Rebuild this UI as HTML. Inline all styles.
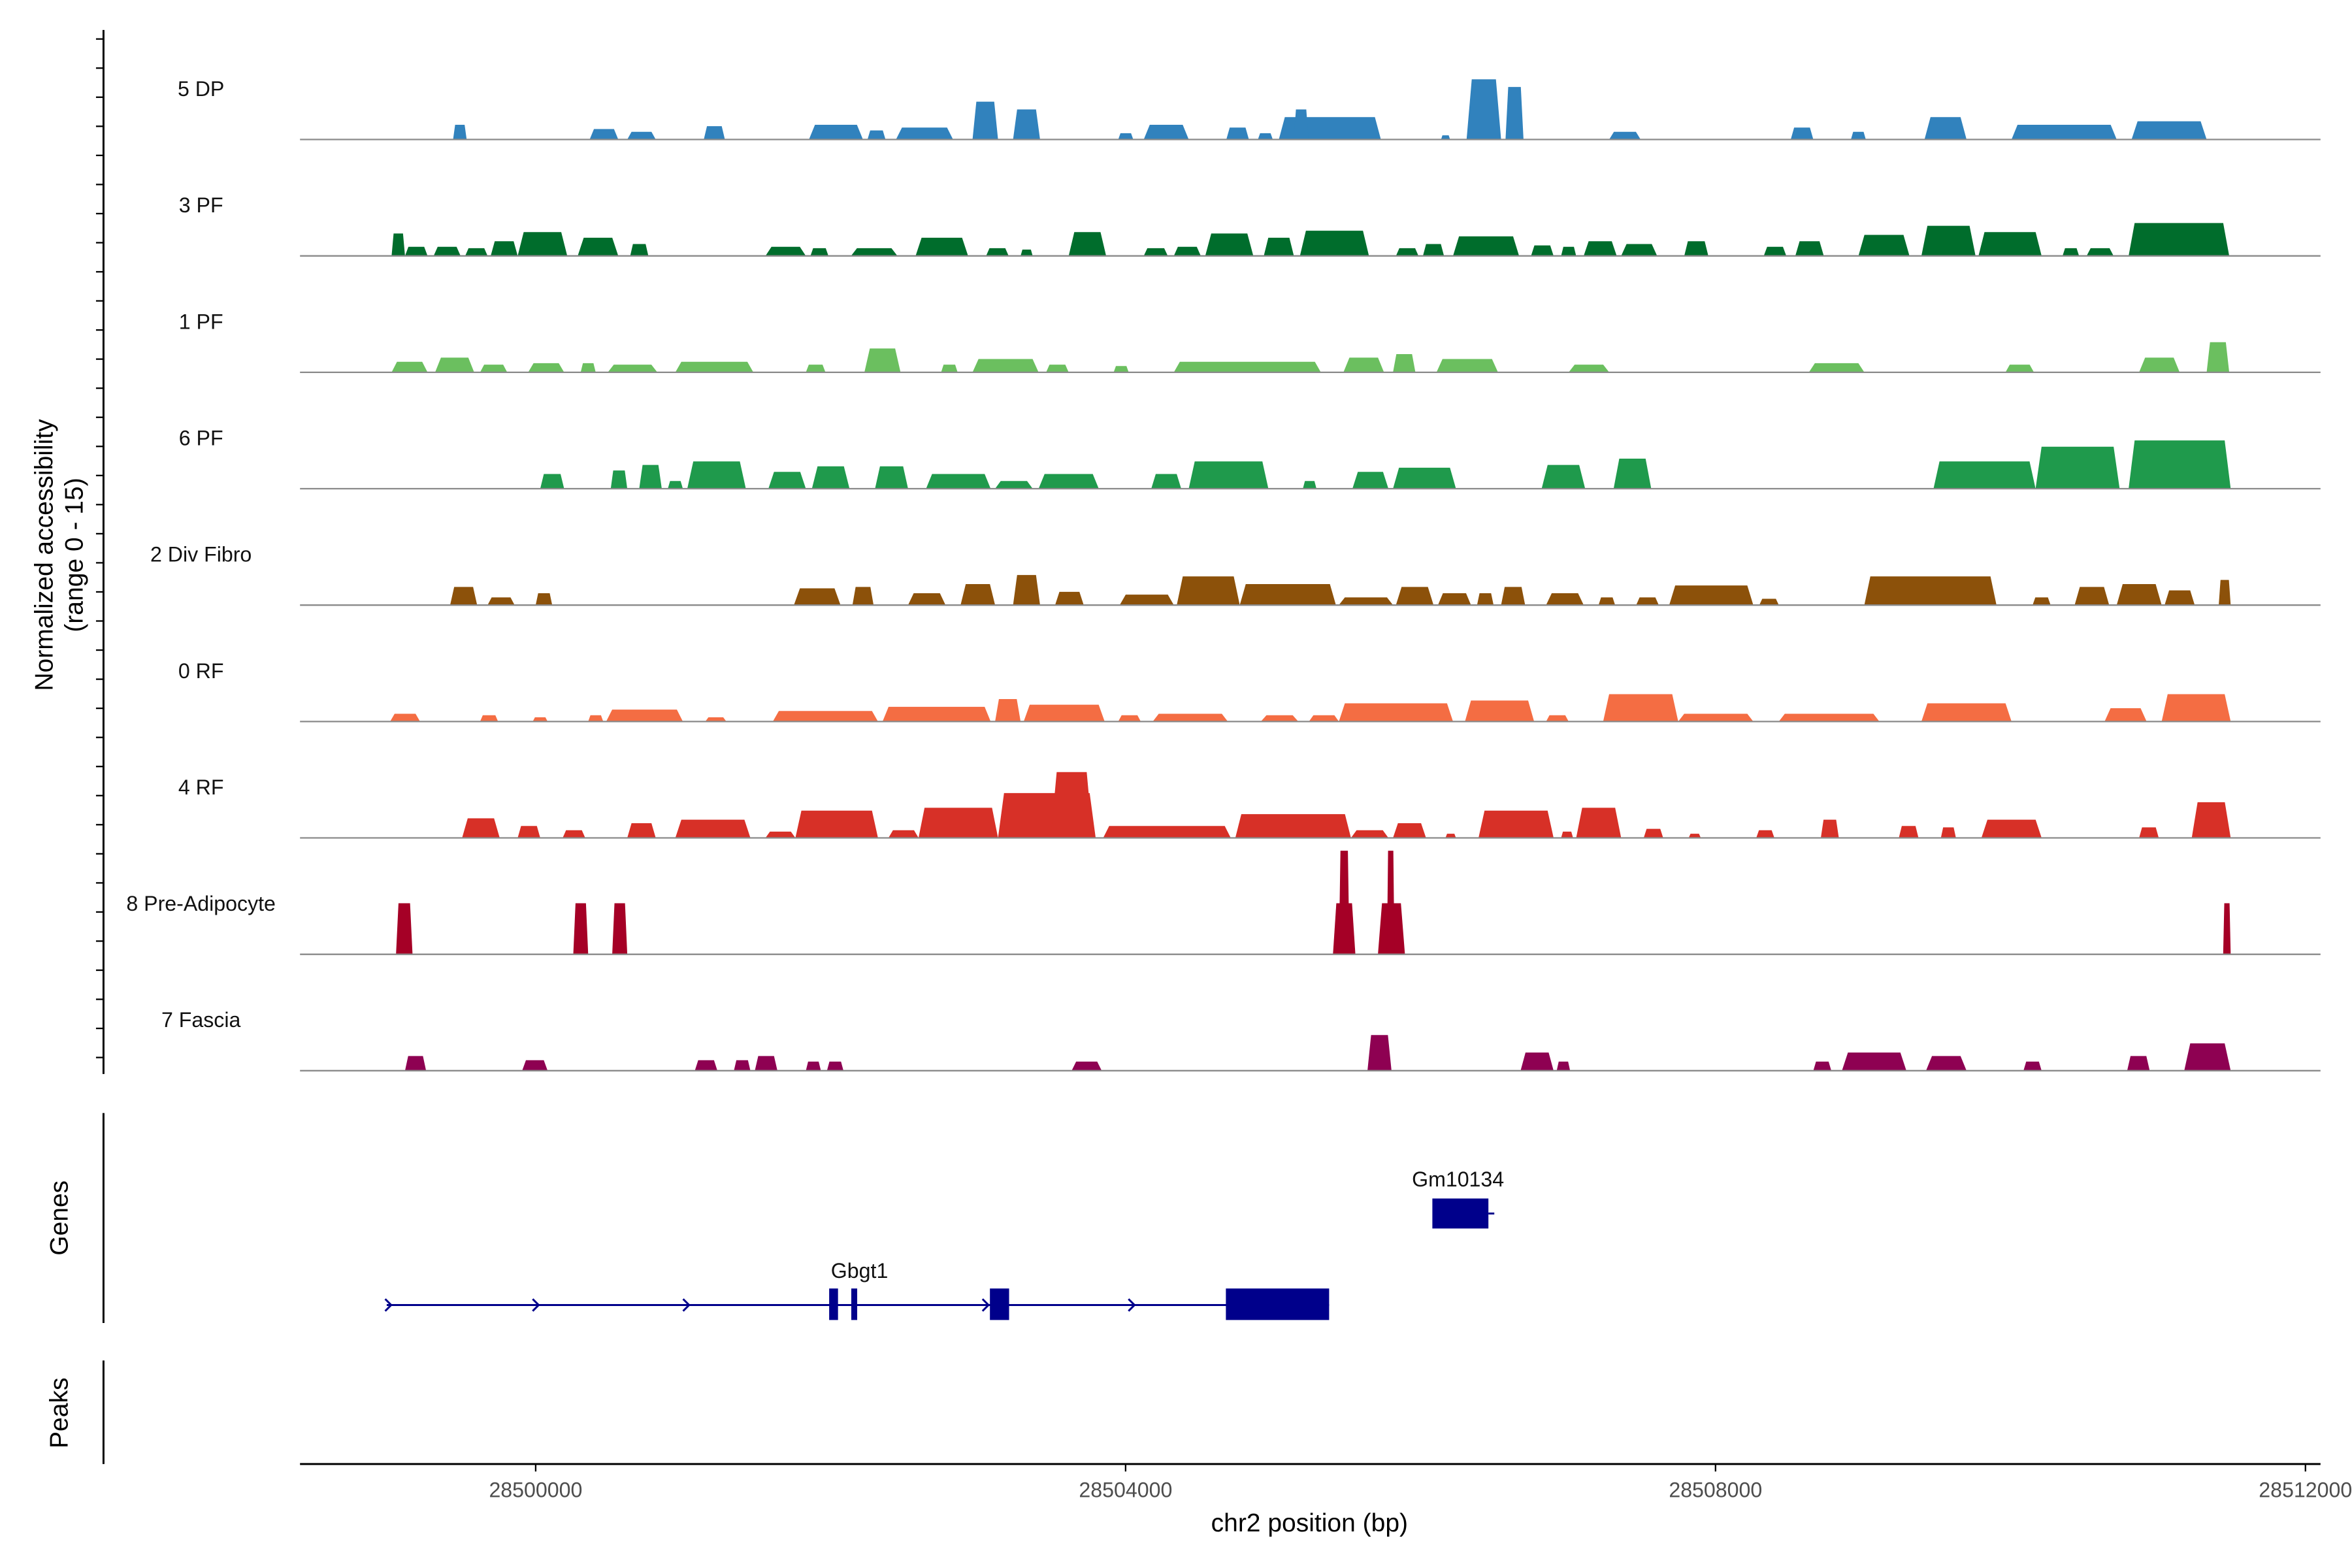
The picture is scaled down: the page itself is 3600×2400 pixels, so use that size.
<!DOCTYPE html>
<html><head><meta charset="utf-8"><style>
html,body{margin:0;padding:0;background:#fff;}
svg{display:block;font-family:"Liberation Sans",Arial,sans-serif;}
</style></head><body>
<svg id="chart" width="3600" height="2400" viewBox="0 0 1568 1045.33" xmlns="http://www.w3.org/2000/svg">
<rect x="0" y="0" width="1568" height="1045.33" fill="#fff"/>
<g id="tracks"></g>
<g id="genes"></g>
<g id="axes"></g>
</svg>
<script>
const trackNames = ["5 DP","3 PF","1 PF","6 PF","2 Div Fibro","0 RF","4 RF","8 Pre-Adipocyte","7 Fascia"];
const trackColors = ["#3182bd","#006d2c","#6bbf5f","#1f9a4c","#8c510a","#f46d43","#d73027","#a50026","#8e0152"];
const xTicks = [28500000,28504000,28508000,28512000];
const xTickLabels = ["28500000","28504000","28508000","28512000"];
const origin = 28500000;
// peaks: [start offset bp, end offset bp, normalized height 0-15]
const dp = [[-560,-468,2.1],[366,560,1.5],[621,814,1.1],[1140,1283,1.9],[1853,2219,2.1],[2250,2372,1.3],[2443,2830,1.7],[2962,3135,5.4],[3237,3420,4.3],[3950,4052,0.9],[4123,4428,2.1],[4683,4836,1.7],[4897,4998,0.9],[5039,5731,3.2],[5140,5240,4.3],[6139,6200,0.6],[6312,6546,8.6],[6576,6698,7.5],[7279,7492,1.1],[8510,8663,1.7],[8918,9019,1.1],[9417,9702,3.2],[10007,10720,2.1],[10821,11330,2.6]];
const pf3 = [[-977,-886,3.2],[-886,-733,1.3],[-692,-509,1.3],[-478,-326,1.1],[-305,-122,2.1],[-122,214,3.4],[285,560,2.6],[641,764,1.7],[1558,1832,1.3],[1863,1985,1.1],[2138,2453,1.1],[2576,2932,2.6],[3054,3207,1.1],[3288,3370,0.9],[3614,3868,3.4],[4123,4286,1.1],[4327,4510,1.3],[4540,4866,3.2],[4937,5141,2.6],[5182,5650,3.6],[5833,5986,1.1],[6016,6159,1.7],[6220,6668,2.8],[6749,6902,1.5],[6953,7055,1.3],[7106,7330,2.1],[7360,7604,1.7],[7788,7951,2.1],[8327,8480,1.3],[8541,8734,2.1],[8969,9315,3.0],[9396,9763,4.3],[9783,10211,3.4],[10353,10465,1.1],[10516,10699,1.1],[10801,11483,4.7]];
const pf1 = [[-977,-733,1.5],[-682,-417,2.1],[-377,-193,1.1],[-51,193,1.3],[305,407,1.3],[489,825,1.1],[947,1476,1.5],[1832,1965,1.1],[2229,2474,3.4],[2749,2861,1.1],[2962,3410,1.9],[3461,3614,1.1],[3919,4021,0.9],[4327,5324,1.5],[5477,5752,2.1],[5813,5965,2.6],[6108,6525,1.9],[7004,7279,1.1],[8633,9009,1.3],[9966,10159,1.1],[10872,11147,2.1],[11330,11483,4.3]];
const pf6 = [[31,193,2.1],[509,621,2.6],[702,855,3.4],[896,998,1.1],[1028,1425,3.9],[1578,1832,2.4],[1873,2128,3.2],[2301,2525,3.2],[2647,3085,2.1],[3115,3370,1.1],[3410,3818,2.1],[4174,4377,2.1],[4428,4968,3.9],[5202,5294,1.1],[5538,5782,2.4],[5813,6240,3.0],[6821,7116,3.4],[7309,7564,4.3],[9478,10170,3.9],[10170,10740,6.0],[10801,11493,6.9]];
const divf = [[-580,-397,2.6],[-326,-143,1.1],[0,112,1.7],[1751,2067,2.4],[2148,2291,2.6],[2525,2779,1.7],[2881,3115,3.0],[3237,3420,4.3],[3522,3716,1.9],[3960,4327,1.5],[4347,4774,4.1],[4774,5426,3.0],[5446,5813,1.1],[5833,6088,2.6],[6118,6342,1.7],[6383,6495,1.7],[6546,6709,2.6],[6851,7106,1.7],[7207,7319,1.1],[7462,7615,1.1],[7686,8256,2.8],[8297,8429,0.9],[9009,9905,4.1],[10150,10272,1.1],[10435,10669,2.6],[10720,11025,3.0],[11045,11249,2.1],[11412,11493,3.6]];
const rf0 = [[-987,-784,1.1],[-377,-255,0.9],[-20,81,0.6],[356,458,0.9],[478,998,1.7],[1150,1293,0.6],[1608,2321,1.5],[2352,3085,2.1],[3115,3288,3.2],[3309,3858,2.4],[3950,4103,0.9],[4184,4693,1.1],[4917,5171,0.9],[5243,5446,0.9],[5446,6220,2.6],[6301,6770,3.0],[6851,7004,0.9],[7238,7747,3.9],[7747,8256,1.1],[8429,9111,1.1],[9396,10007,2.6],[10638,10923,1.9],[11025,11493,3.9]];
const rf4 = [[-499,-244,2.8],[-122,31,1.7],[183,336,1.1],[621,814,2.1],[947,1456,2.6],[1558,1761,0.9],[1761,2321,3.9],[2392,2596,1.1],[2596,3135,4.3],[3135,3797,6.4],[3492,3777,9.4],[3848,4713,1.7],[4744,5528,3.4],[5528,5782,1.1],[5813,6037,2.1],[6169,6240,0.6],[6393,6902,3.9],[6953,7034,0.9],[7055,7360,4.3],[7513,7645,1.3],[7818,7900,0.6],[8276,8399,1.1],[8714,8836,2.6],[9243,9376,1.7],[9528,9630,1.5],[9803,10211,2.6],[10872,11005,1.5],[11229,11493,5.1]];
const preAdipo = [[-947,-835,7.3],[255,356,7.3],[519,621,7.3],[5406,5558,7.3],[5446,5518,14.8],[5711,5894,7.3],[5772,5823,14.8],[11442,11493,7.3]];
const fascia = [[-886,-743,2.1],[-92,81,1.5],[1079,1232,1.5],[1344,1456,1.5],[1486,1639,2.1],[1832,1934,1.3],[1975,2087,1.3],[3634,3838,1.3],[5640,5803,5.1],[6678,6902,2.6],[6923,7014,1.3],[8663,8785,1.3],[8857,9294,2.6],[9427,9702,2.1],[10088,10211,1.3],[10791,10944,2.1],[11178,11493,3.9]];
const trackData = [dp,pf3,pf1,pf6,divf,rf0,rf4,preAdipo,fascia];

const NS = "http://www.w3.org/2000/svg";
const X0 = 200, X1 = 1547, BP0 = 28498402, BP1 = 28512102;
function xScale(bp){ return X0 + (bp - BP0) / (BP1 - BP0) * (X1 - X0); }
const baseTop = 93, trackStep = 77.6, hMax = 70;
function yScale(i, v){ return baseTop + i*trackStep - v/15*hMax; }
function mk(tag, attrs, parent){
  const el = document.createElementNS(NS, tag);
  for (const k in attrs) el.setAttribute(k, attrs[k]);
  parent.appendChild(el); return el;
}
const gT = document.getElementById("tracks");
trackData.forEach((peaks, i) => {
  const g = mk("g", {}, gT);
  
  
  const base = yScale(i, 0);
  peaks.forEach(p => {
    const xa = xScale(origin + p[0]), xb = xScale(origin + p[1]);
    const yt = yScale(i, p[2]);
    const w = xb - xa, s = Math.min(w*0.15, 4);
    const path = mk("path", {d:`M${xa},${base} L${xa+s},${yt} L${xb-s},${yt} L${xb},${base} Z`, fill: trackColors[i]}, g);
    
    
  });
  const ln = mk("line", {x1:X0, x2:X1, y1:base, y2:base, stroke:"#8a8a8a", "stroke-width":1}, g);
  
  
  const t = mk("text", {x:134, y:base-29, "font-size":14, "text-anchor":"middle", fill:"#111"}, g);
  t.textContent = trackNames[i];
  
  
});

// genes
const gG = document.getElementById("genes");
const geneColor = "#00008b";
const gbgtStart = -1010, gbgtEnd = 5380;
const gbgtExons = [[1990,2050],[2140,2180],[3080,3210],[4680,5380]];
const gbgtArrows = [-1000,0,1020,2020,3050,4040];
const gmExons = [[6080,6460]];
function gEl(tag, attrs, name){ const e = mk(tag, attrs, gG);   return e; }
gEl("line", {x1:xScale(origin+gbgtStart), x2:xScale(origin+gbgtEnd), y1:870, y2:870, stroke:geneColor, "stroke-width":1.3}, "gbgt1-intron-line");
gbgtArrows.forEach(a => { const x = xScale(origin+a); gEl("path", {d:`M${x-2},866 L${x+2},870 L${x-2},874`, fill:"none", stroke:geneColor, "stroke-width":1.3}, "strand-arrow"); });
gbgtExons.forEach(e => gEl("rect", {x:xScale(origin+e[0]), y:859, width:xScale(origin+e[1])-xScale(origin+e[0]), height:21, fill:geneColor}, "gbgt1-exon"));
gmExons.forEach(e => gEl("rect", {x:xScale(origin+e[0]), y:799, width:xScale(origin+e[1])-xScale(origin+e[0]), height:20, fill:geneColor}, "gm10134-exon"));
gEl("line", {x1:xScale(origin+6460), x2:xScale(origin+6500), y1:809, y2:809, stroke:geneColor, "stroke-width":1.3}, "gm10134-line");
let tg = gEl("text", {x:573, y:852, "font-size":14, "text-anchor":"middle", fill:"#111"}, "gene-label-gbgt1"); tg.textContent = "Gbgt1";
tg = gEl("text", {x:972, y:791, "font-size":14, "text-anchor":"middle", fill:"#111"}, "gene-label-gm10134"); tg.textContent = "Gm10134";

// axes
const gA = document.getElementById("axes");
function aEl(tag, attrs, name){ const e = mk(tag, attrs, gA);   return e; }
aEl("line", {x1:69, x2:69, y1:20, y2:716, stroke:"#000", "stroke-width":1.3}, "y-axis-line");
for (let y = 26; y <= 716; y += 19.4) aEl("line", {x1:64, x2:69, y1:y, y2:y, stroke:"#000", "stroke-width":1}, "y-axis-tick");
aEl("line", {x1:69, x2:69, y1:742, y2:882, stroke:"#000", "stroke-width":1.3}, "genes-axis-line");
aEl("line", {x1:69, x2:69, y1:907, y2:976, stroke:"#000", "stroke-width":1.3}, "peaks-axis-line");
let t = aEl("text", {x:0, y:0, "font-size":17, "text-anchor":"middle", transform:"translate(35,370) rotate(-90)", fill:"#000"}, "y-axis-title");
t.textContent = "Normalized accessibility";
t = aEl("text", {x:0, y:0, "font-size":17, "text-anchor":"middle", transform:"translate(55,370) rotate(-90)", fill:"#000"}, "y-axis-subtitle");
t.textContent = "(range 0 - 15)";
t = aEl("text", {x:0, y:0, "font-size":17, "text-anchor":"middle", transform:"translate(45,812) rotate(-90)", fill:"#000"}, "genes-axis-title");
t.textContent = "Genes";
t = aEl("text", {x:0, y:0, "font-size":17, "text-anchor":"middle", transform:"translate(45,942) rotate(-90)", fill:"#000"}, "peaks-axis-title");
t.textContent = "Peaks";
aEl("line", {x1:X0, x2:X1, y1:976, y2:976, stroke:"#000", "stroke-width":1.3}, "x-axis-line");
xTicks.forEach((v, k) => {
  const x = xScale(v);
  aEl("line", {x1:x, x2:x, y1:976, y2:981, stroke:"#000", "stroke-width":1}, "x-axis-tick");
  const tt = aEl("text", {x:x, y:998, "font-size":14, "text-anchor":"middle", fill:"#4d4d4d"}, "x-tick-label");
  tt.textContent = xTickLabels[k];
});
t = aEl("text", {x:873, y:1021, "font-size":17, "text-anchor":"middle", fill:"#000"}, "x-axis-title");
t.textContent = "chr2 position (bp)";
</script>
</body></html>
